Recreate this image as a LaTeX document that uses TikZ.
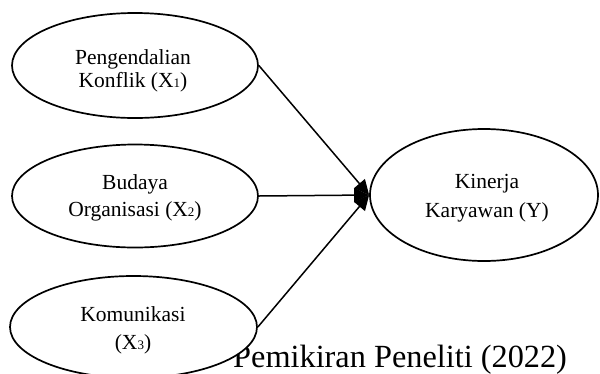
\documentclass[tikz,border=0pt]{standalone}
\usepackage{fontspec}
\setmainfont{Liberation Serif}
\usetikzlibrary{arrows.meta,shapes.geometric}
\newcommand{\subidx}[1]{\raisebox{-0.6pt}{\fontsize{13}{13}\selectfont #1}}
\begin{document}
\begin{tikzpicture}[x=1pt,y=-1pt,
  oval/.style={draw=black, fill=white, ellipse, line width=1.7pt, inner sep=0pt},
  lbl/.style={font=\fontsize{21.5}{22.5}\selectfont, align=center, inner sep=0pt, anchor=base},
  arr/.style={line width=1.5pt, -{Triangle[length=15pt,width=14pt]}}]
\clip (0,0) rectangle (600,373);
\fill[white] (0,0) rectangle (600,373);
% caption (partly hidden behind ellipse)
\node[anchor=base west, inner sep=0pt, font=\fontsize{32.3}{35}\selectfont] (cap) at (233,367.5) {Pemikiran Peneliti (2022)};
% ellipses
\node[oval, minimum width=246pt, minimum height=105pt] (x1) at (135,65.5) {};
\node[oval, minimum width=246pt, minimum height=103pt] (x2) at (135,196) {};
\node[oval, minimum width=247pt, minimum height=102pt] (x3) at (133.5,327) {};
\node[oval, minimum width=228pt, minimum height=132pt] (y) at (484,195) {};
% labels (anchor = baseline of last line)
\node[lbl] (t1) at (133,87) {Pengendalian\\Konflik (X\subidx{1})};
\node[lbl] (t2) at (135,216) {Budaya\\[4pt]Organisasi (X\subidx{2})};
\node[lbl] (t3) at (133,349) {Komunikasi\\[5pt](X\subidx{3})};
\node[lbl] (ty) at (487,217) {Kinerja\\[6pt]Karyawan (Y)};
% connectors
\draw[arr] (x1.east) -- (y.west);
\draw[arr] (x2.east) -- (y.west);
\draw[arr] (x3.east) -- (y.west);
\end{tikzpicture}
\end{document}
